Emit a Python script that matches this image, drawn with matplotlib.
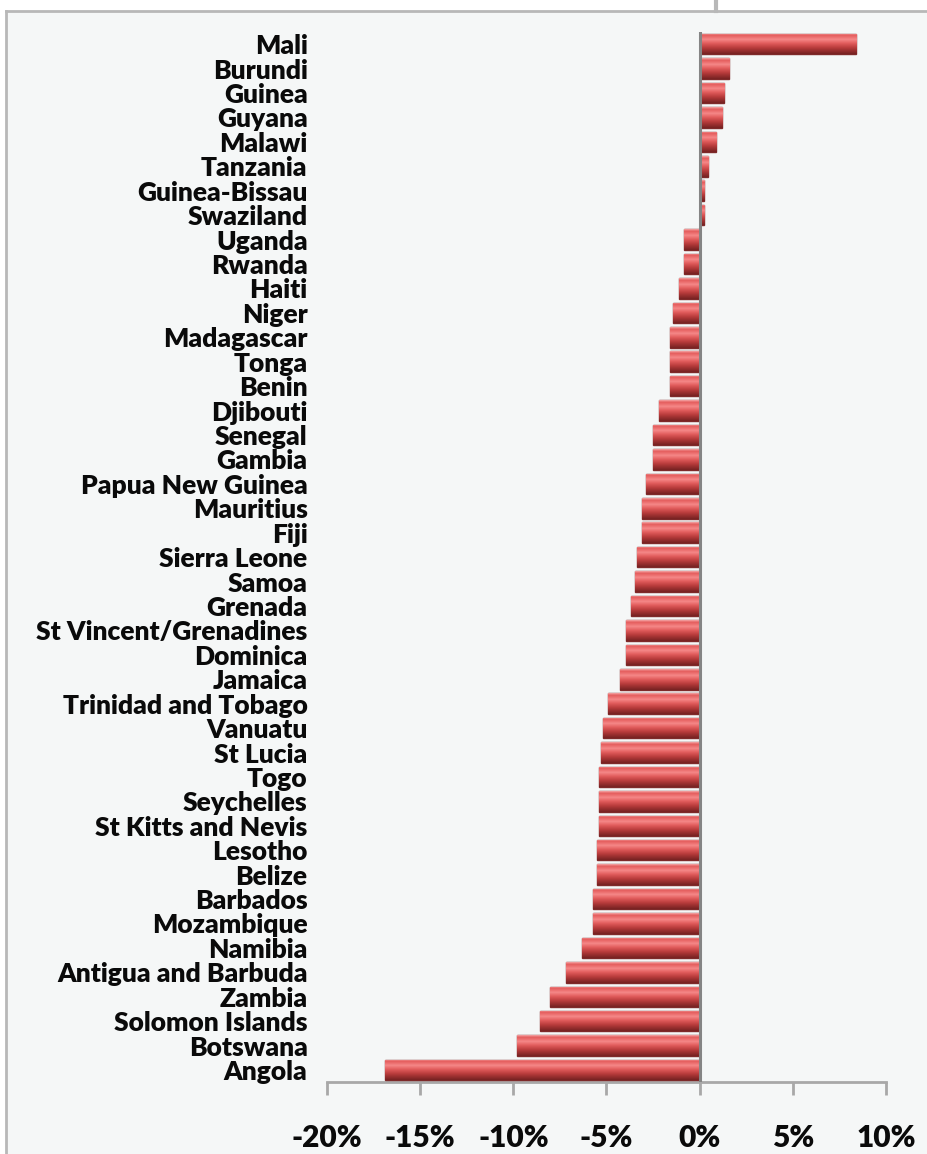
import numpy as np
import matplotlib
matplotlib.use("Agg")
import matplotlib.pyplot as plt
from matplotlib.colors import LinearSegmentedColormap
from matplotlib.lines import Line2D
from matplotlib.patches import Rectangle
from matplotlib.ticker import FuncFormatter

countries = ["Mali", "Burundi", "Guinea", "Guyana", "Malawi", "Tanzania",
             "Guinea-Bissau", "Swaziland", "Uganda", "Rwanda", "Haiti", "Niger",
             "Madagascar", "Tonga", "Benin", "Djibouti", "Senegal", "Gambia",
             "Papua New Guinea", "Mauritius", "Fiji", "Sierra Leone", "Samoa",
             "Grenada", "St Vincent/Grenadines", "Dominica", "Jamaica",
             "Trinidad and Tobago", "Vanuatu", "St Lucia", "Togo", "Seychelles",
             "St Kitts and Nevis", "Lesotho", "Belize", "Barbados", "Mozambique",
             "Namibia", "Antigua and Barbuda", "Zambia", "Solomon Islands",
             "Botswana", "Angola"]
values = [8.4, 1.6, 1.3, 1.2, 0.9, 0.45, 0.25, 0.25, -0.85, -0.85, -1.1, -1.45,
          -1.6, -1.6, -1.6, -2.2, -2.5, -2.5, -2.9, -3.1, -3.1, -3.35, -3.45,
          -3.7, -3.95, -3.95, -4.3, -4.9, -5.2, -5.3, -5.4, -5.4, -5.4, -5.5,
          -5.5, -5.75, -5.75, -6.3, -7.2, -8.05, -8.55, -9.8, -16.9]
xticks = [-20, -15, -10, -5, 0, 5, 10]

W, H = 928, 1154
fig = plt.figure(figsize=(W / 100, H / 100), dpi=100)
fig.patch.set_facecolor("white")
# chart area background and borders
fig.patches.append(Rectangle((6 / W, 0), 1 - 6 / W, 1 - 11 / H, transform=fig.transFigure,
                             facecolor="#f5f7f7", edgecolor="none", zorder=-10))
fig.lines.append(Line2D([6 / W, 1], [1 - 11 / H, 1 - 11 / H], transform=fig.transFigure,
                        color="#b8b8b8", lw=2))
fig.lines.append(Line2D([6 / W, 6 / W], [0, 1 - 11 / H], transform=fig.transFigure,
                        color="#b8b8b8", lw=2))
fig.lines.append(Line2D([716 / W, 716 / W], [1 - 11 / H, 1], transform=fig.transFigure,
                        color="#b8b8b8", lw=3))

ax = fig.add_axes([327 / W, 1 - 1082 / H, (886 - 327) / W, (1082 - 32) / H])
ax.set_facecolor("none")

n = len(countries)
ypos = np.arange(n)[::-1]
bars = ax.barh(ypos, values, height=0.84, color="#d94c4c", edgecolor="#7e2a2a",
               linewidth=1.0, zorder=3)

cmap = LinearSegmentedColormap.from_list("bar", [
    (0.0, "#f3a3a3"), (0.1, "#e45c5c"), (0.3, "#f58888"), (0.48, "#e35d5d"),
    (0.72, "#b53a3a"), (1.0, "#762222")])
grad = np.linspace(0, 1, 64).reshape(-1, 1)
for b in bars:
    x0, y0, w, h = b.get_x(), b.get_y(), b.get_width(), b.get_height()
    im = ax.imshow(grad, cmap=cmap, aspect="auto", zorder=3.5,
                   extent=[min(x0, x0 + w), max(x0, x0 + w), y0, y0 + h],
                   origin="upper", interpolation="bilinear")
    im.set_clip_path(b)

ax.axvline(0, color="#858585", lw=2.2, zorder=4)

ax.set_xlim(-20, 10)
ax.set_ylim(-0.49, n - 0.5)
ax.set_xticks(xticks)
ax.xaxis.set_major_formatter(FuncFormatter(lambda v, p: f"{int(v)}%"))
ax.set_yticks(ypos)
ax.set_yticklabels(countries)

for s in ["top", "right", "left"]:
    ax.spines[s].set_visible(False)
ax.spines["bottom"].set_color("#a8a8a8")
ax.spines["bottom"].set_linewidth(2)
ax.tick_params(axis="x", direction="out", length=9, width=2, color="#a8a8a8",
               pad=21, labelsize=21.5)
ax.tick_params(axis="y", length=0, pad=14, labelsize=19)
for lbl in ax.get_xticklabels() + ax.get_yticklabels():
    lbl.set_fontfamily("Lato")
    lbl.set_fontweight("heavy")
    lbl.set_color("#0a0a0a")

fig.savefig("out.png", dpi=100, facecolor=fig.get_facecolor())
